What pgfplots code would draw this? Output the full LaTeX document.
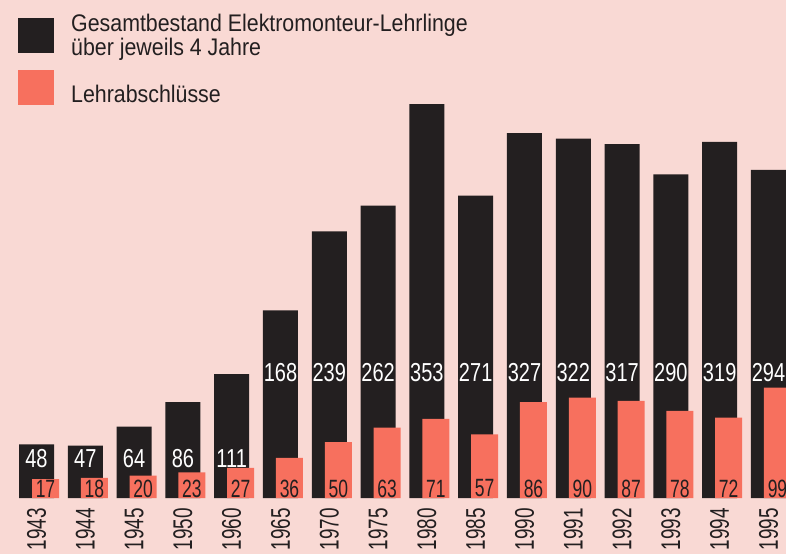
\documentclass[border=0pt]{standalone}
\usepackage{pgfplots}
\pgfplotsset{compat=1.18}
\usepackage{pgfplotstable}
\usepackage{fontspec}
\setmainfont{Liberation Sans}
\newfontfamily\legfont{Liberation Sans}[FakeStretch=0.89]
\newfontfamily\numfont{Liberation Sans}[FakeStretch=0.77]
\newfontfamily\salfont{Liberation Sans}[FakeStretch=0.70]
\newfontfamily\yearfont{Liberation Sans}[FakeStretch=0.70]
\definecolor{bgpink}{RGB}{249,217,212}
\definecolor{barblack}{RGB}{35,31,32}
\definecolor{salmon}{RGB}{247,112,94}

\pgfplotstableread{
i year total grad ly sy
0 1943 48 17 34.9 8.5
1 1944 47 18 34.9 8.5
2 1945 64 20 34.9 8.5
3 1950 86 23 34.9 8.5
4 1960 111 27 34.9 8.5
5 1965 168 36 112.5 8.5
6 1970 239 50 112.5 8.5
7 1975 262 63 112.5 8.5
8 1980 353 71 112.5 8.5
9 1985 271 57 112.5 8.5
10 1990 327 86 112.5 8.5
11 1991 322 90 112.5 8.5
12 1992 317 87 112.5 8.5
13 1993 290 78 112.5 8.5
14 1994 319 72 112.5 8.5
15 1995 294 99 112.5 8.5
}\datatable

\begin{document}
\begin{tikzpicture}
\useasboundingbox (0,-56bp) rectangle (786bp,498bp);
\fill[bgpink] (0,-56bp) rectangle (786bp,498bp);
\begin{axis}[
  at={(0,0)}, anchor=south west,
  scale only axis,
  width=786bp, height=498bp,
  xmin=-0.748, xmax=15.359,
  ymin=0, ymax=446.2,
  axis line style={draw=none},
  tick style={draw=none},
  major tick length=0pt,
  ytick=\empty,
  xtick={0,...,15},
  xticklabels={1943,1944,1945,1950,1960,1965,1970,1975,1980,1985,1990,1991,1992,1993,1994,1995},
  xticklabel style={rotate=90, anchor=east, inner sep=0pt,
    font=\yearfont\fontsize{27bp}{27bp}\selectfont, text=barblack},
  xticklabel shift=10bp,
]
\addplot[ybar, bar width=35bp, bar shift=0bp, fill=barblack, draw=none]
  table[x=i, y=total] {\datatable};
\addplot[ybar, bar width=27bp, bar shift=9bp, fill=salmon, draw=none]
  table[x=i, y=grad] {\datatable};
\addplot[draw=none, mark=none, nodes near coords={\pgfplotspointmeta},
  point meta=explicit symbolic,
  every node near coord/.append style={anchor=center, text=white, inner sep=0pt,
    font=\numfont\fontsize{26bp}{26bp}\selectfont}]
  table[x=i, y=ly, meta=total] {\datatable};
\addplot[draw=none, mark=none, nodes near coords={\pgfplotspointmeta},
  point meta=explicit symbolic,
  every node near coord/.append style={anchor=center, text=barblack, inner sep=0pt, xshift=9bp,
    font=\salfont\fontsize{25bp}{25bp}\selectfont}]
  table[x=i, y=sy, meta=grad] {\datatable};
\end{axis}
\fill[barblack] (18bp,445bp) rectangle (54bp,480bp);
\fill[salmon] (18bp,393bp) rectangle (54bp,428bp);
\node[anchor=base west, inner sep=0pt, text=barblack, font=\legfont\fontsize{24bp}{22bp}\selectfont]
  at (71bp,466bp) {Gesamtbestand Elektromonteur-Lehrlinge};
\node[anchor=base west, inner sep=0pt, text=barblack, font=\legfont\fontsize{24bp}{22bp}\selectfont]
  at (71bp,442.5bp) {über jeweils 4 Jahre};
\node[anchor=base west, inner sep=0pt, text=barblack, font=\legfont\fontsize{24bp}{22bp}\selectfont]
  at (71bp,395bp) {Lehrabschlüsse};
\end{tikzpicture}
\end{document}
